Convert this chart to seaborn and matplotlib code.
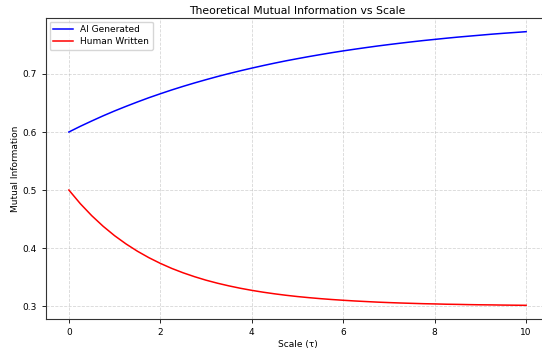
import matplotlib
matplotlib.use("Agg")
import matplotlib.pyplot as plt
import seaborn as sns
import pandas as pd

scale = [0.0, 0.25, 0.5, 0.75, 1.0, 1.25, 1.5, 1.75, 2.0, 2.25, 2.5, 2.75,
         3.0, 3.25, 3.5, 3.75, 4.0, 4.25, 4.5, 4.75, 5.0, 5.25, 5.5, 5.75,
         6.0, 6.25, 6.5, 6.75, 7.0, 7.25, 7.5, 7.75, 8.0, 8.25, 8.5, 8.75,
         9.0, 9.25, 9.5, 9.75, 10.0]
ai_generated = [0.6000, 0.6098, 0.6190, 0.6279, 0.6363, 0.6442, 0.6518, 0.6591, 0.6659,
                0.6725, 0.6787, 0.6846, 0.6902, 0.6956, 0.7007, 0.7055, 0.7101, 0.7145,
                0.7187, 0.7227, 0.7264, 0.7300, 0.7334, 0.7367, 0.7398, 0.7427, 0.7455,
                0.7482, 0.7507, 0.7531, 0.7554, 0.7576, 0.7596, 0.7616, 0.7635, 0.7652,
                0.7669, 0.7686, 0.7701, 0.7715, 0.7729]
human_written = [0.5000, 0.4765, 0.4558, 0.4375, 0.4213, 0.4071, 0.3945, 0.3834, 0.3736,
                 0.3649, 0.3573, 0.3506, 0.3446, 0.3394, 0.3348, 0.3307, 0.3271, 0.3239,
                 0.3211, 0.3186, 0.3164, 0.3145, 0.3128, 0.3113, 0.3100, 0.3088, 0.3078,
                 0.3068, 0.3060, 0.3053, 0.3047, 0.3041, 0.3037, 0.3032, 0.3029, 0.3025,
                 0.3022, 0.3020, 0.3017, 0.3015, 0.3013]
series_names = ["AI Generated", "Human Written"]
colors = ["blue", "red"]

df = pd.concat([
    pd.DataFrame({"Scale": scale, "MI": ai_generated, "Source": series_names[0]}),
    pd.DataFrame({"Scale": scale, "MI": human_written, "Source": series_names[1]}),
])

fig = plt.figure(figsize=(5.42, 3.51), dpi=100)
ax = fig.add_axes([46 / 542, 32 / 351, 503 / 542, 301 / 351])
sns.lineplot(data=df, x="Scale", y="MI", hue="Source", palette=colors,
             linewidth=1.1, ax=ax)
ax.set_xlim(-0.5, 10.5)
ax.set_xticks([0, 2, 4, 6, 8, 10])
ax.set_yticks([0.3, 0.4, 0.5, 0.6, 0.7])
ax.grid(True, linestyle="--", alpha=0.5, linewidth=0.6)
ax.tick_params(labelsize=6.5, length=3, width=0.6)
for s in ax.spines.values():
    s.set_linewidth(0.8)
    s.set_color("#333333")
ax.spines["right"].set_visible(False)
ax.set_xlabel("Scale (τ)", fontsize=6.5, labelpad=2)
ax.set_ylabel("Mutual Information", fontsize=6.5, labelpad=2)
ax.set_title("Theoretical Mutual Information vs Scale", fontsize=7.8, pad=3)
leg = ax.legend(loc="upper left", fontsize=6.5, handlelength=2.2,
                borderaxespad=0.4, labelspacing=0.3)
leg.set_title(None)
fig.savefig("out.png", dpi=100)
